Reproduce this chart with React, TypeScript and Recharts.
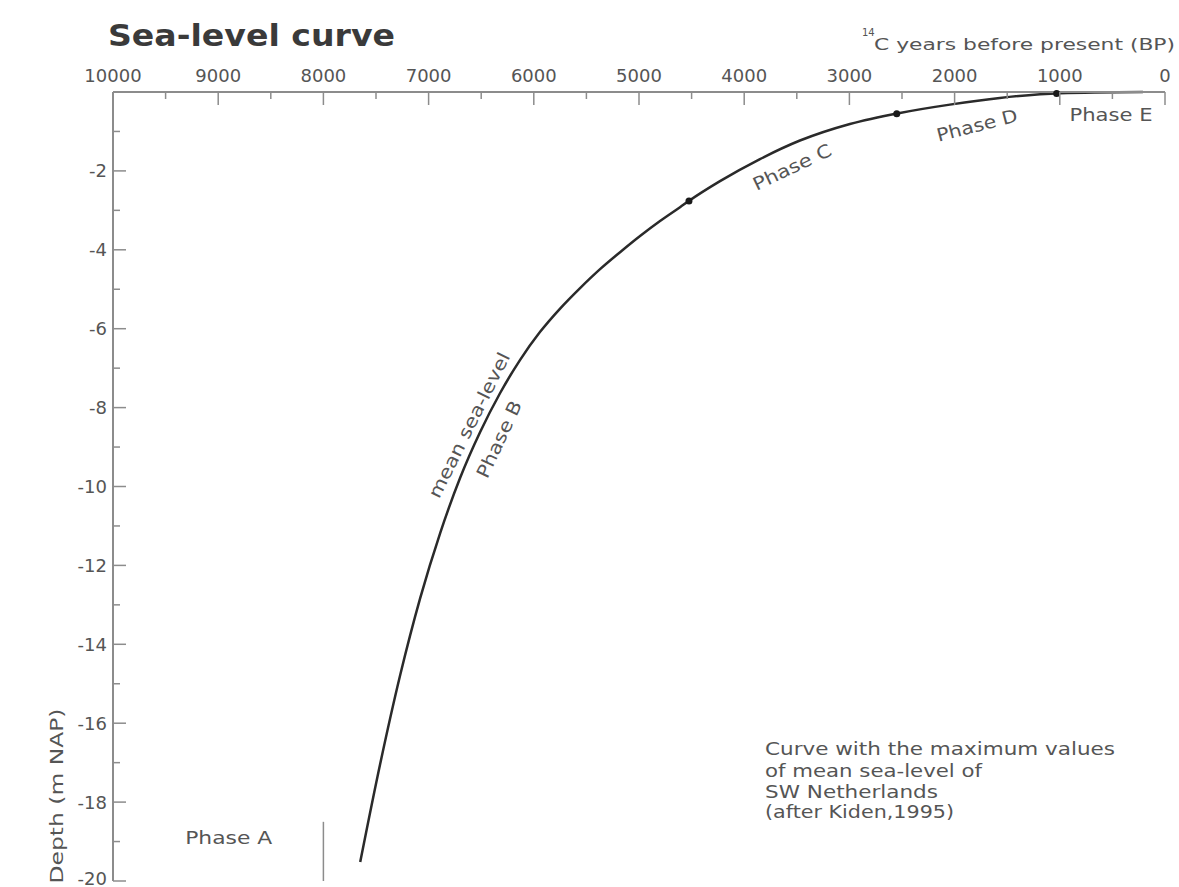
import { LineChart, Line, XAxis, YAxis, Scatter, ReferenceDot, ReferenceLine } from 'recharts';

// sea-level curve (years BP, depth in m NAP)
const curveYears = [7650, 7460, 7270, 7080, 6890, 6700, 6510, 6320, 6130, 5940, 5750, 5560, 5370, 5180, 4990, 4800, 4610, 4525, 4230, 3850, 3470, 2995, 2520, 2045, 1570, 1000, 210];
const curveDepths = [-19.52, -17.03, -14.78, -12.83, -11.18, -9.78, -8.62, -7.63, -6.79, -6.08, -5.49, -4.97, -4.49, -4.06, -3.65, -3.27, -2.92, -2.76, -2.26, -1.7, -1.23, -0.81, -0.53, -0.32, -0.15, -0.03, 0];

// dated points on the curve
const dotYears = [4525, 2550, 1030];
const dotDepths = [-2.76, -0.55, -0.04];

const yearTicks = [0, 500, 1000, 1500, 2000, 2500, 3000, 3500, 4000, 4500, 5000, 5500, 6000, 6500, 7000, 7500, 8000, 8500, 9000, 9500, 10000];
const depthTicks = [0, -1, -2, -3, -4, -5, -6, -7, -8, -9, -10, -11, -12, -13, -14, -15, -16, -17, -18, -19, -20];

// phase labels along the curve
const phaseNames = ['Phase A', 'Phase B', 'mean sea-level', 'Phase C', 'Phase D', 'Phase E'];
const phaseYears = [8900, 6331, 6616, 3546, 1787, 513];
const phaseDepths = [-18.9, -8.8, -8.44, -1.9, -0.84, -0.57];
const phaseAngles = [0, -65, -63.5, -25.5, -14.5, 0];
const phaseWidths = [87, 83, 160, 85, 83, 83];

const AXIS = '#8c8c8c';
const TEXT = '#555';
const FONT = '"DejaVu Sans", sans-serif';

const curveData = curveYears.map((year, i) => ({ year, depth: curveDepths[i] }));
const dotData = dotYears.map((year, i) => ({ year, depth: dotDepths[i] }));

const TopTick = (props: any) => {
  const { x, y, payload } = props;
  const major = payload.value % 1000 === 0;
  return (
    <g>
      <line x1={x} y1={y} x2={x} y2={y + (major ? 13 : 7)} stroke={AXIS} strokeWidth={1.5} />
      {major && (
        <text x={x} y={y - 10} textAnchor="middle" fontSize={18} fill={TEXT} fontFamily={FONT}>
          {payload.value}
        </text>
      )}
    </g>
  );
};

const BottomTick = (props: any) => {
  const { x, y, payload } = props;
  const major = payload.value % 1000 === 0;
  return <line x1={x} y1={y} x2={x} y2={y - (major ? 13 : 7)} stroke={AXIS} strokeWidth={1.5} />;
};

const LeftTick = (props: any) => {
  const { x, y, payload } = props;
  const major = payload.value % 2 === 0;
  // keep the last label inside the picture
  const ty = payload.value === -20 ? y - 3 : y;
  return (
    <g>
      <line x1={x} y1={y} x2={x + (major ? 13 : 7)} y2={y} stroke={AXIS} strokeWidth={1.5} />
      {major && payload.value !== 0 && (
        <text x={x - 6} y={ty} textAnchor="end" dominantBaseline="central" fontSize={18} fill={TEXT} fontFamily={FONT}>
          {payload.value}
        </text>
      )}
    </g>
  );
};

const RightTick = (props: any) => {
  const { x, y, payload } = props;
  const major = payload.value % 2 === 0;
  return <line x1={x} y1={y} x2={x - (major ? 13 : 7)} y2={y} stroke={AXIS} strokeWidth={1.5} />;
};

const PhaseLabel = (text: string, angle: number, width: number) => (p: any) => (
  <text
    x={p.cx}
    y={p.cy}
    textAnchor="middle"
    dominantBaseline="central"
    fontSize={18}
    fill={TEXT}
    fontFamily={FONT}
    textLength={width}
    lengthAdjust="spacingAndGlyphs"
    transform={`rotate(${angle}, ${p.cx}, ${p.cy})`}
  >
    {text}
  </text>
);

export default function App() {
  return (
    <div style={{ position: 'absolute', left: 0, top: 0, width: 1179, height: 887, background: '#fff' }}>
      <LineChart width={1179} height={887} data={curveData} margin={{ top: 62, right: 14, bottom: 6, left: 53 }}>
        <XAxis
          xAxisId="top"
          orientation="top"
          type="number"
          dataKey="year"
          domain={[0, 10000]}
          reversed
          ticks={yearTicks}
          interval={0}
          height={30}
          tickSize={0}
          tickMargin={0}
          tickLine={false}
          tick={<TopTick />}
          axisLine={{ stroke: AXIS, strokeWidth: 2 }}
        />
        <XAxis
          xAxisId="bottom"
          orientation="bottom"
          type="number"
          dataKey="year"
          domain={[0, 10000]}
          reversed
          ticks={yearTicks}
          interval={0}
          height={0}
          tickSize={0}
          tickMargin={0}
          tickLine={false}
          tick={<BottomTick />}
          axisLine={{ stroke: AXIS, strokeWidth: 2 }}
        />
        <YAxis
          yAxisId="left"
          orientation="left"
          type="number"
          dataKey="depth"
          domain={[-20, 0]}
          ticks={depthTicks}
          interval={0}
          width={60}
          tickSize={0}
          tickMargin={0}
          tickLine={false}
          tick={<LeftTick />}
          axisLine={{ stroke: AXIS, strokeWidth: 2 }}
        />
        <YAxis
          yAxisId="right"
          orientation="right"
          type="number"
          dataKey="depth"
          domain={[-20, 0]}
          ticks={depthTicks}
          interval={0}
          width={0}
          tickSize={0}
          tickMargin={0}
          tickLine={false}
          tick={<RightTick />}
          axisLine={{ stroke: AXIS, strokeWidth: 2 }}
        />
        <ReferenceLine
          xAxisId="top"
          yAxisId="left"
          segment={[{ x: 8000, y: -18.5 }, { x: 8000, y: -20 }]}
          stroke={AXIS}
          strokeWidth={1.5}
        />
        <Line
          xAxisId="top"
          yAxisId="left"
          type="monotone"
          dataKey="depth"
          stroke="#2a2a2a"
          strokeWidth={2.5}
          dot={false}
          activeDot={false}
          isAnimationActive={false}
        />
        <Scatter
          xAxisId="bottom"
          yAxisId="right"
          data={dotData}
          dataKey="depth"
          isAnimationActive={false}
          shape={(p: any) => <circle cx={p.cx} cy={p.cy} r={3.5} fill="#1a1a1a" />}
        />
        {phaseNames.map((name, i) => (
          <ReferenceDot
            key={name}
            xAxisId="top"
            yAxisId="left"
            x={phaseYears[i]}
            y={phaseDepths[i]}
            r={0}
            shape={PhaseLabel(name, phaseAngles[i], phaseWidths[i])}
          />
        ))}
      </LineChart>
      <svg width={1179} height={887} style={{ position: 'absolute', left: 0, top: 0, pointerEvents: 'none' }}>
        <text x={108} y={46} fontSize={30} fontWeight="bold" fill="#3a3a3a" fontFamily={FONT} textLength={287} lengthAdjust="spacingAndGlyphs">
          Sea-level curve
        </text>
        <text x={862} y={36} fontSize={10} fill={TEXT} fontFamily={FONT}>14</text>
        <text x={874} y={50} fontSize={16} fill={TEXT} fontFamily={FONT} textLength={301} lengthAdjust="spacingAndGlyphs">
          C years before present (BP)
        </text>
        <text
          x={56}
          y={796}
          fontSize={18}
          fill={TEXT}
          fontFamily={FONT}
          textAnchor="middle"
          dominantBaseline="central"
          textLength={175}
          lengthAdjust="spacingAndGlyphs"
          transform="rotate(-90, 56, 796)"
        >
          Depth (m NAP)
        </text>
        <g fontSize={17} fill={TEXT} fontFamily={FONT}>
          <text x={765} y={755} textLength={350} lengthAdjust="spacingAndGlyphs">Curve with the maximum values</text>
          <text x={765} y={777} textLength={217} lengthAdjust="spacingAndGlyphs">of mean sea-level of</text>
          <text x={765} y={798} textLength={173} lengthAdjust="spacingAndGlyphs">SW Netherlands</text>
          <text x={765} y={818} textLength={189} lengthAdjust="spacingAndGlyphs">(after Kiden,1995)</text>
        </g>
      </svg>
    </div>
  );
}
